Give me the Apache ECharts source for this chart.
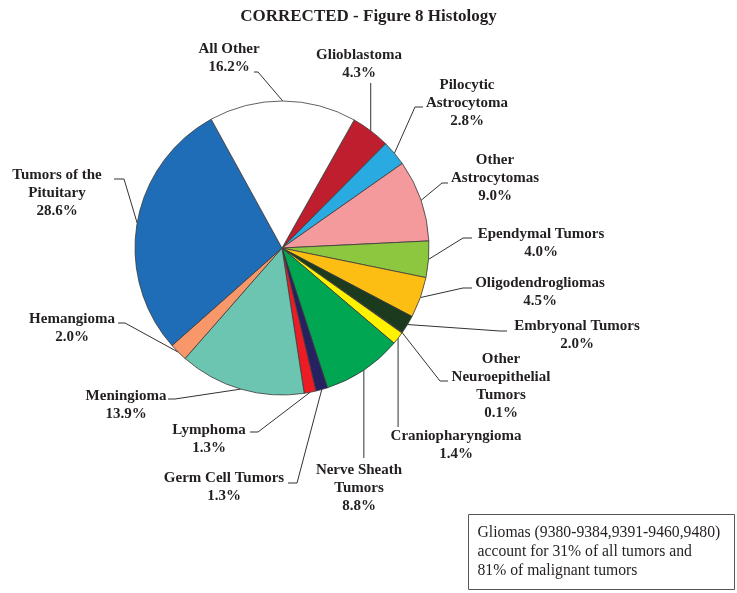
<!DOCTYPE html>
<html><head><meta charset="utf-8">
<script src="https://cdn.jsdelivr.net/npm/echarts@6/dist/echarts.min.js"></script>
<style>html,body{margin:0;padding:0;background:#fff}#c{width:737px;height:593px}</style>
</head><body><div id="c"></div>
<script>
// ---- data ----
const categories = ['Glioblastoma', 'Pilocytic\nAstrocytoma', 'Other\nAstrocytomas', 'Ependymal Tumors',
  'Oligodendrogliomas', 'Embryonal Tumors', 'Other\nNeuroepithelial\nTumors', 'Craniopharyngioma',
  'Nerve Sheath\nTumors', 'Germ Cell Tumors', 'Lymphoma', 'Meningioma', 'Hemangioma',
  'Tumors of the\nPituitary', 'All Other'];
const percents = [4.3, 2.8, 9.0, 4.0, 4.5, 2.0, 0.1, 1.4, 8.8, 1.3, 1.3, 13.9, 2.0, 28.6, 16.2];
const colors = ['#BE1E2D', '#29ABE2', '#F49A9C', '#8DC63F', '#FDBE14', '#1B3A1E', '#2a2a2a', '#FFF200',
  '#00A651', '#262262', '#ED1C24', '#6CC5B0', '#F7976A', '#1F6DB7', '#FFFFFF'];
const noteText = 'Gliomas (9380-9384,9391-9460,9480)\naccount for 31% of all tumors and\n81% of malignant tumors';
const titleText = 'CORRECTED - Figure 8 Histology';

// ---- label layout (positions only) ----
// x,y: centre of text block; e: elbow point; l: line end at label; v: y end of vertical line
const labelPlaces = [
  {x: 359, y: 64.5, v: 83},
  {x: 467, y: 103, e: [415, 107], l: [423, 107]},
  {x: 495, y: 178.5, e: [442, 183], l: [448, 183]},
  {x: 541, y: 243.5, e: [463, 238], l: [472, 238]},
  {x: 540, y: 292, e: [463, 288], l: [472, 288]},
  {x: 577, y: 335.5, e: [500, 331], l: [507, 331]},
  {x: 501, y: 386, e: [440, 381], l: [448, 381]},
  {x: 456, y: 445.5, v: 427},
  {x: 359, y: 488.5, v: 458},
  {x: 224, y: 487.5, e: [297, 483], l: [288, 483]},
  {x: 209, y: 439, e: [258, 432], l: [250, 432]},
  {x: 126, y: 405, e: [175, 399], l: [168, 399]},
  {x: 72, y: 328, e: [125, 323], l: [118, 323]},
  {x: 57, y: 193, e: [124, 179], l: [114, 179]},
  {x: 229, y: 58, e: [258, 72], l: [254, 72]}
];

const CX = 282, CY = 248, R = 147, START = 60.6;
const total = percents.reduce((a, b) => a + b, 0);
function edgePoint(i) {
  let cum = 0;
  for (let k = 0; k < i; k++) cum += percents[k];
  const mid = (START - (cum + percents[i] / 2) / total * 360) * Math.PI / 180;
  return [CX + R * Math.cos(mid), CY - R * Math.sin(mid)];
}

const chart = echarts.init(document.getElementById('c'), null, {renderer: 'canvas'});
const serif = '"Liberation Serif", "Times New Roman", serif';
chart.setOption({
  backgroundColor: '#ffffff',
  animation: false,
  title: {
    text: titleText, left: 'center', top: 3,
    textStyle: {fontFamily: serif, fontWeight: 'bold', fontSize: 17, color: '#231F20'}
  },
  series: [{
    type: 'pie',
    center: [CX, CY],
    radius: R,
    startAngle: START,
    clockwise: true,
    avoidLabelOverlap: false,
    minShowLabelAngle: 0,
    data: categories.map((n, i) => ({name: n, value: percents[i], itemStyle: {color: colors[i]}})),
    itemStyle: {borderColor: '#3a3a3a', borderWidth: 0.8},
    label: {
      show: true, position: 'outside',
      formatter: p => p.name + '\n' + p.value.toFixed(1) + '%',
      fontFamily: serif, fontWeight: 'bold', fontSize: 15, lineHeight: 18, color: '#231F20',
      align: 'center'
    },
    labelLine: {show: true, length: 10, length2: 10, lineStyle: {color: '#333', width: 1}},
    labelLayout: function (params) {
      const i = params.dataIndex;
      const p = labelPlaces[i];
      let p0 = (params.labelLinePoints && params.labelLinePoints[0]) ? params.labelLinePoints[0] : edgePoint(i);
      let pts;
      if (p.v != null) {
        pts = [p0, [p0[0], p.v], [p0[0], p.v]];
      } else {
        pts = [p0, p.e, p.l];
      }
      return {x: p.x, y: p.y, align: 'center', verticalAlign: 'middle', labelLinePoints: pts};
    },
    emphasis: {disabled: true}
  }],
  graphic: [{
    type: 'group', left: 468, top: 514,
    children: [
      {type: 'rect', shape: {x: 0, y: 0, width: 266, height: 75},
       style: {fill: '#fff', stroke: '#555', lineWidth: 1}},
      {type: 'text', x: 9, y: 9,
       style: {text: noteText, fontFamily: serif, fontSize: 15.7, lineHeight: 19, fill: '#231F20'}}
    ]
  }]
});
</script>
</body></html>
